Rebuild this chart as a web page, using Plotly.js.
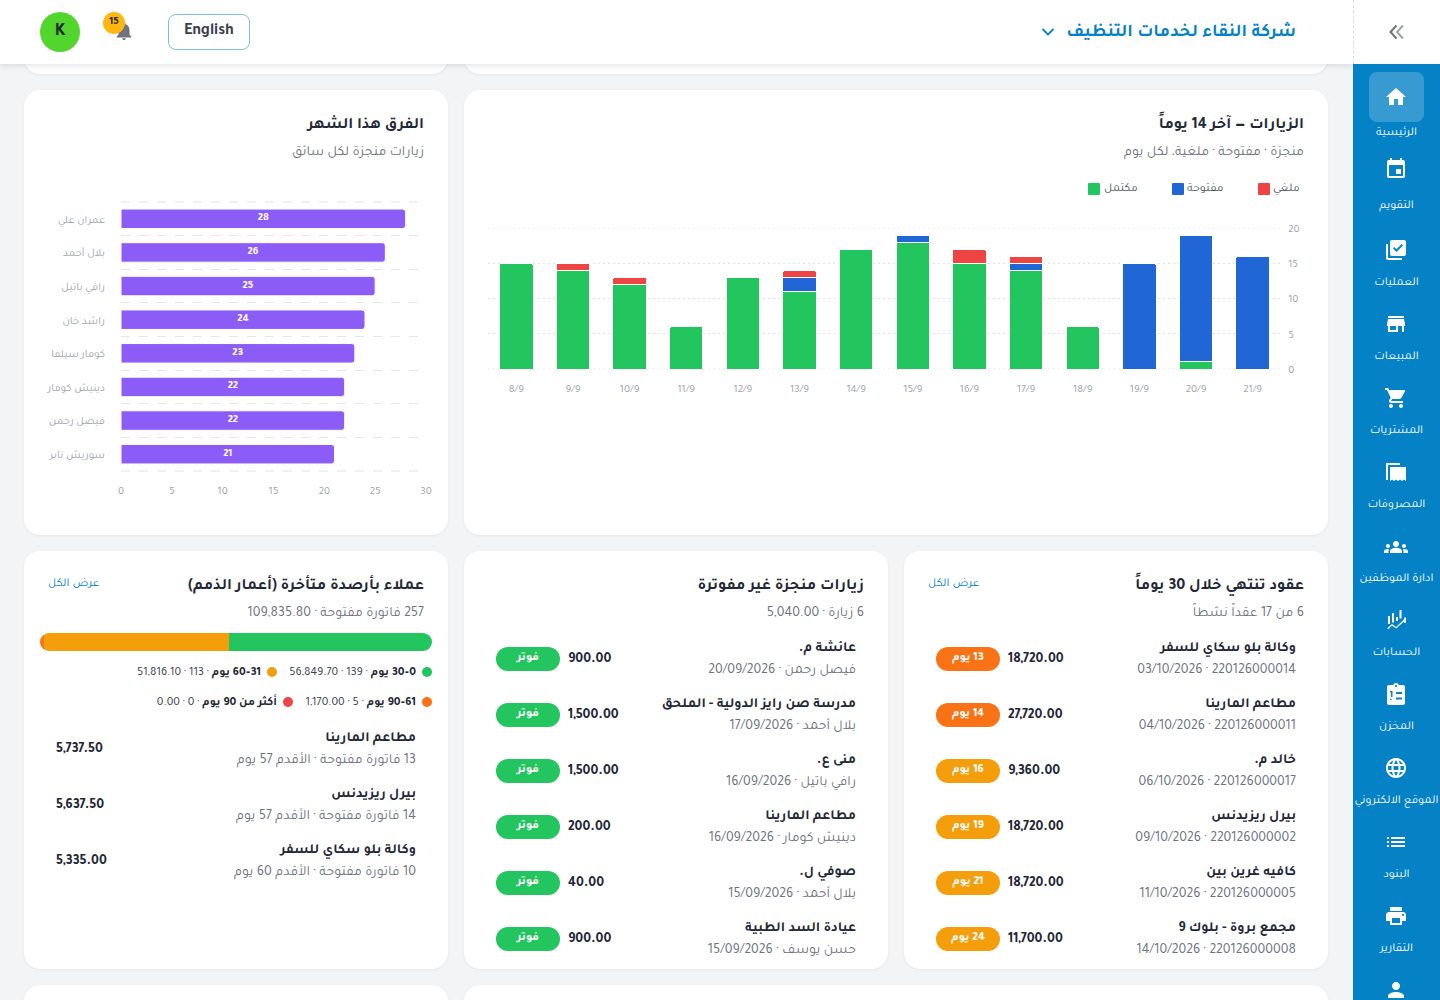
<!DOCTYPE html>
<html lang="ar"><head><meta charset="utf-8">
<script src="https://cdn.plot.ly/plotly-3.0.1.min.js"></script>
<style>
*{box-sizing:border-box}
html,body{margin:0;padding:0;width:1440px;height:1000px;overflow:hidden;background:#f3f4f6;font-family:Tajawal,"Noto Sans",sans-serif;color:#1f2937}
.abs{position:absolute}
.card{position:absolute;background:#fff;border-radius:16px;box-shadow:0 1px 3px rgba(0,0,0,.06);overflow:hidden}
.t{position:absolute;white-space:nowrap;line-height:1;transform:translateY(calc(-50% + 2.5px))}
.r{direction:rtl;text-align:right}
.title{font-size:16px;font-weight:700;color:#1f2937}
.sub{font-size:14px;color:#6b7280}
.name{font-size:14px;font-weight:700;color:#1f2937}
.meta{font-size:14px;color:#6b7280}
.amt{font-size:14px;font-weight:700;color:#1f2937;direction:ltr}
.link{font-size:12px;color:#0582c6}
.pill{position:absolute;width:64px;height:24px;border-radius:12px;color:#fff;font-size:12px;font-weight:700;display:flex;align-items:center;justify-content:center;direction:rtl;padding-bottom:3px}
.navlabel{position:absolute;left:1353px;width:87px;text-align:center;color:#fff;font-size:12px;line-height:1;transform:translateY(calc(-50% + 2px));white-space:nowrap;direction:rtl}
.navicon{position:absolute;left:1384px;width:24px;height:24px;fill:#fff}
.dot{position:absolute;width:10px;height:10px;border-radius:50%;transform:translateY(-50%)}
.leg{font-size:12px;color:#374151}.leg b{font-weight:700;color:#1f2937}
.sw{position:absolute;width:12px;height:12px;border-radius:1px}
.lt{font-size:12px;color:#4b5563}
</style></head><body>
<div id="page"></div>
<script>
// Visits chart
const visitDays=['8/9','9/9','10/9','11/9','12/9','13/9','14/9','15/9','16/9','17/9','18/9','19/9','20/9','21/9'];
const visitsDone=[15,14,12,6,13,11,17,18,15,14,6,0,1,0];
const visitsOpen=[0,0,0,0,0,2,0,1,0,1,0,15,18,16];
const visitsCancelled=[0,1,1,0,0,1,0,0,2,1,0,0,0,0];
const seriesNames=['مكتمل','مفتوحة','ملغي'];
const seriesColors=['#22c55e','#2066d4','#ef4444'];
// Drivers chart
const driverNames=['عمران علي','بلال أحمد','رافي باتيل','راشد خان','كومار سيلفا','دينيش كومار','فيصل رحمن','سوريش نابر'];
const driverVisits=[28,26,25,24,23,22,22,21];
// Ageing
const ageBuckets=['0–30 يوم','31–60 يوم','61–90 يوم','أكثر من 90 يوم'];
const ageCounts=[139,113,5,0];
const ageAmounts=[56849.70,51816.10,1170.00,0.00];
const ageColors=['#22c55e','#f59e0b','#f97316','#ef4444'];
// Lists
const debtorNames=['مطاعم المارينا','بيرل ريزيدنس','وكالة بلو سكاي للسفر'];
const debtorInvoices=[13,14,10];
const debtorOldest=[57,57,60];
const debtorAmounts=['5,737.50','5,637.50','5,335.00'];
const unbilledClients=['عائشة م.','مدرسة صن رايز الدولية - الملحق','منى ع.','مطاعم المارينا','صوفي ل.','عيادة السد الطبية'];
const unbilledDrivers=['فيصل رحمن','بلال أحمد','رافي باتيل','دينيش كومار','بلال أحمد','حسن يوسف'];
const unbilledDates=['20/09/2026','17/09/2026','16/09/2026','16/09/2026','15/09/2026','15/09/2026'];
const unbilledAmounts=['900.00','1,500.00','1,500.00','200.00','40.00','900.00'];
const contractClients=['وكالة بلو سكاي للسفر','مطاعم المارينا','خالد م.','بيرل ريزيدنس','كافيه غرين بين','مجمع بروة - بلوك 9'];
const contractIds=['220126000014','220126000011','220126000017','220126000002','220126000005','220126000008'];
const contractDates=['03/10/2026','04/10/2026','06/10/2026','09/10/2026','11/10/2026','14/10/2026'];
const contractAmounts=['18,720.00','27,720.00','9,360.00','18,720.00','18,720.00','11,700.00'];
const contractDays=[13,14,16,19,21,24];
const navLabels=['الرئيسية','التقويم','العمليات','المبيعات','المشتريات','المصروفات','ادارة الموظفين','الحسابات','المخزن','الموقع الالكتروني','البنود','التقارير'];
const navIconY=[97,169,250,324,398,472,547,620,694,768,842,916,990];
const navLabelY=[131,204,281,355,429,503,577,651,725,799,873,947];
const navIcons=[
'M10 20v-6h4v6h5v-8h3L12 3 2 12h3v8z',
'M17 12h-5v5h5v-5zM16 1v2H8V1H6v2H5c-1.11 0-1.99.9-1.99 2L3 19c0 1.1.89 2 2 2h14c1.1 0 2-.9 2-2V5c0-1.1-.9-2-2-2h-1V1h-2zm3 18H5V8h14v11z',
'M4 6H2v14c0 1.1.9 2 2 2h14v-2H4V6zm16-4H8c-1.1 0-2 .9-2 2v12c0 1.1.9 2 2 2h12c1.1 0 2-.9 2-2V4c0-1.1-.9-2-2-2zm-7.53 12L9 10.5l1.4-1.41 2.07 2.08L17.6 6 19 7.41 12.47 14z',
'M20 4H4v2h16V4zm1 10v-2l-1-5H4l-1 5v2h1v6h10v-6h4v6h2v-6h1zm-9 4H6v-4h6v4z',
'M7 18c-1.1 0-1.99.9-1.99 2S5.9 22 7 22s2-.9 2-2-.9-2-2-2zM1 2v2h2l3.6 7.59-1.35 2.45c-.16.28-.25.61-.25.96 0 1.1.9 2 2 2h12v-2H7.42c-.14 0-.25-.11-.25-.25l.03-.12.9-1.63h7.45c.75 0 1.41-.41 1.75-1.03l3.58-6.49c.08-.14.12-.31.12-.48 0-.55-.45-1-1-1H5.21l-.94-2H1zm16 16c-1.1 0-1.99.9-1.99 2s.89 2 1.99 2 2-.9 2-2-.9-2-2-2z',
'M2 3h14v2H4v15H2V3zM6 7h16v14l-2-1.5-2 1.5-2-1.5-2 1.5-2-1.5-2 1.5-2-1.5L6 21V7z',
'M12 12.75c1.63 0 3.07.39 4.24.9 1.08.48 1.76 1.56 1.76 2.73V18H6v-1.61c0-1.18.68-2.26 1.76-2.73 1.17-.52 2.61-.91 4.24-.91zM4 13c1.1 0 2-.9 2-2s-.9-2-2-2-2 .9-2 2 .9 2 2 2zm1.13 1.1C4.76 14.04 4.39 14 4 14c-.99 0-1.93.21-2.78.58C.48 14.9 0 15.62 0 16.43V18h4.5v-1.61c0-.83.23-1.61.63-2.29zM20 13c1.1 0 2-.9 2-2s-.9-2-2-2-2 .9-2 2 .9 2 2 2zm4 3.43c0-.81-.48-1.53-1.22-1.85C21.93 14.21 20.99 14 20 14c-.39 0-.76.04-1.13.1.4.68.63 1.46.63 2.29V18H24v-1.57zM12 6c1.66 0 3 1.34 3 3s-1.34 3-3 3-3-1.34-3-3 1.34-3 3-3z',
'M4 8h2v8H4zM8 5h2v9.5H8zM12 9h2v4h-2zM15.5 2h2v8.5h-2zM3 20.5l5-4.5 4 3 8-7.5v-2h2V15h-2v-1.5l-8 7-4-3-3.500 3.500z',
'M19 3h-4.180C14.400 1.840 13.300 1 12 1s-2.400.84-2.820 2H5c-1.100 0-2 .9-2 2v16c0 1.100.9 2 2 2h14c1.100 0 2-.9 2-2V5c0-1.100-.9-2-2-2zM12 3c.55 0 1 .45 1 1s-.45 1-1 1-1-.45-1-1 .45-1 1-1zM6 9v1.500h1V15h1.500V9zM12 10h6v2h-6zM6 16.500v1.500h1.500V17H6zM12 15.500h6v2h-6z',
'M11.990 2C6.470 2 2 6.480 2 12s4.470 10 9.990 10C17.520 22 22 17.520 22 12S17.520 2 11.990 2zm6.930 6h-2.950c-.32-1.250-.78-2.450-1.380-3.560 1.840.63 3.370 1.910 4.330 3.560zM12 4.040c.83 1.200 1.480 2.530 1.910 3.960h-3.820c.43-1.430 1.080-2.760 1.910-3.960zM4.260 14C4.100 13.360 4 12.690 4 12s.1-1.360.26-2h3.380c-.08.66-.14 1.320-.14 2 0 .68.06 1.340.14 2H4.260zm.82 2h2.950c.32 1.250.78 2.450 1.380 3.560-1.840-.63-3.370-1.900-4.330-3.560zm2.950-8H5.080c.96-1.660 2.490-2.930 4.330-3.560C8.810 5.550 8.350 6.750 8.030 8zM12 19.960c-.83-1.200-1.480-2.530-1.910-3.960h3.820c-.43 1.430-1.080 2.760-1.910 3.960zM14.340 14H9.660c-.09-.66-.16-1.320-.16-2 0-.68.07-1.350.16-2h4.680c.09.650.16 1.320.16 2 0 .68-.07 1.340-.16 2zm.25 5.560c.6-1.110 1.060-2.310 1.380-3.560h2.950c-.96 1.650-2.490 2.930-4.330 3.560zM16.360 14c.08-.66.14-1.320.14-2 0-.68-.06-1.340-.14-2h3.380c.16.640.26 1.310.26 2s-.1 1.360-.26 2h-3.380z',
'M3 13h2v-2H3v2zm0 4h2v-2H3v2zm0-8h2V7H3v2zm4 4h14v-2H7v2zm0 4h14v-2H7v2zM7 7v2h14V7H7z',
'M19 8H5c-1.660 0-3 1.340-3 3v6h4v4h12v-4h4v-6c0-1.660-1.340-3-3-3zm-3 11H8v-5h8v5zm3-7c-.55 0-1-.45-1-1s.45-1 1-1 1 .45 1 1-.45 1-1 1zm-1-9H6v4h12V3z',
'M12 12c2.210 0 4-1.790 4-4s-1.790-4-4-4-4 1.790-4 4 1.790 4 4 4zm0 2c-2.670 0-8 1.340-8 4v2h16v-2c0-2.660-5.330-4-8-4z'];
const bellIcon='M12 22c1.100 0 2-.9 2-2h-4c0 1.100.89 2 2 2zm6-6v-5c0-3.070-1.640-5.640-4.500-6.320V4c0-.83-.67-1.500-1.500-1.500s-1.500.67-1.500 1.500v.68C7.630 5.360 6 7.920 6 11v5l-2 2v1h16v-1l-2-2z';

const fmt=v=>v.toLocaleString('en-US',{minimumFractionDigits:2,maximumFractionDigits:2});
let h='';
const card=(x,y,w,ht,inner='')=>`<div class="card" style="left:${x}px;top:${y}px;width:${w}px;height:${ht}px">${inner}</div>`;
const rt=(right,y,cls,txt,extra='')=>`<div class="t r ${cls}" style="right:${1440-right}px;top:${y}px;${extra}">${txt}</div>`;
const lt=(left,y,cls,txt,extra='')=>`<div class="t ${cls}" style="left:${left}px;top:${y}px;${extra}">${txt}</div>`;
h+=card(24,40,424,34)+card(464,40,864,34);
h+=card(24,90,424,445)+card(464,90,864,445);
h+=card(24,551,424,418)+card(464,551,424,418)+card(904,551,424,418);
h+=card(24,985,424,60)+card(464,985,864,60);
h+=rt(1304,123,'title','الزيارات — آخر 14 يوماً')+rt(1304,150,'sub','منجزة · مفتوحة · ملغية، لكل يوم');
h+=rt(424,123,'title','الفرق هذا الشهر')+rt(424,150,'sub','زيارات منجزة لكل سائق');
h+=rt(1304,584,'title','عقود تنتهي خلال 30 يوماً')+rt(1304,611,'sub','6 من 17 عقداً نشطاً')+lt(928,581,'link r','عرض الكل');
h+=rt(864,584,'title','زيارات منجزة غير مفوترة')+rt(864,611,'sub','6 زيارة · 5,040.00');
h+=rt(424,584,'title','عملاء بأرصدة متأخرة (أعمار الذمم)')+rt(424,611,'sub','257 فاتورة مفتوحة · 109,835.80')+lt(48,581,'link r','عرض الكل');
// visits legend, from the series names and colours
const swX=[1088,1172,1258],swTextX=[1104,1187,1273];
seriesNames.forEach((n,i)=>{
 h+=`<div class="sw" style="left:${swX[i]}px;top:183px;background:${seriesColors[i]}"></div>`;
 h+=lt(swTextX[i],186,'lt r',n);
});
const legX=[427,272,427,288],legY=[671,671,701,701];
ageBuckets.forEach((b,i)=>{
 h+=`<div class="dot" style="left:${legX[i]-5}px;top:${legY[i]+1}px;background:${ageColors[i]}"></div>`;
 h+=rt(legX[i]-11,legY[i]-1,'leg',`<b>${b}</b> · ${ageCounts[i]} · ${fmt(ageAmounts[i])}`);
});
debtorNames.forEach((n,i)=>{const y=56*i;
 h+=rt(416,736+y,'name',n)+rt(416,758+y,'meta',`${debtorInvoices[i]} فاتورة مفتوحة · الأقدم ${debtorOldest[i]} يوم`);
 h+=lt(56,747+y,'amt',debtorAmounts[i]);
});
let mid='',right='';
unbilledClients.forEach((n,i)=>{const y=56*i;
 mid+=rt(856,646+y,'name',n)+rt(856,668+y,'meta',`${unbilledDrivers[i]} · ${unbilledDates[i]}`);
 mid+=lt(568,657+y,'amt',unbilledAmounts[i]);
 mid+=`<div class="pill" style="left:496px;top:${647+y}px;background:#22c55e">فوتر</div>`;
});
contractClients.forEach((n,i)=>{const y=56*i;
 right+=rt(1296,646+y,'name',n)+rt(1296,668+y,'meta',`${contractIds[i]} · ${contractDates[i]}`);
 right+=lt(1008,657+y,'amt',contractAmounts[i]);
 right+=`<div class="pill" style="left:936px;top:${647+y}px;background:${contractDays[i]<=14?'#f97316':'#f59e0b'}">${contractDays[i]} يوم</div>`;
});
h+=`<div class="abs" style="left:0;top:0;width:1440px;height:969px;overflow:hidden">${mid}${right}</div>`;
h+=`<div id="visits" class="abs" style="left:464px;top:170px;width:864px;height:240px"></div>`;
h+=`<div id="drivers" class="abs" style="left:24px;top:180px;width:424px;height:330px"></div>`;
h+=`<div id="ageing" class="abs" style="left:40px;top:633px;width:392px;height:18px;border-radius:9px;overflow:hidden"></div>`;
h+=`<div class="abs" style="left:0;top:0;width:1353px;height:64px;background:#fff;box-shadow:0 2px 6px rgba(0,0,0,.10)"></div>`;
h+=`<div class="abs" style="left:1353px;top:0;width:87px;height:64px;background:#fff;border-left:1px dashed #d9dce1"></div>`;
h+=`<svg class="abs" style="left:1387px;top:22px" width="20" height="20" viewBox="0 0 20 20" fill="none"><path d="M9.500 3.500 3.500 10l6 6.500" stroke="#6b7280" stroke-width="2"/><path d="M16 3.500 10 10l6 6.500" stroke="#9ca3af" stroke-width="2"/></svg>`;
h+=rt(1296,29.5,'','شركة النقاء لخدمات التنظيف','font-size:18px;font-weight:700;color:#0582c6');
h+=`<svg class="abs" style="left:1041px;top:27px" width="14" height="10" viewBox="0 0 14 10" fill="none"><path d="M1.500 2 7 7.500 12.500 2" stroke="#0582c6" stroke-width="1.800"/></svg>`;
h+=`<div class="abs" style="left:168px;top:14px;width:82px;height:36px;border:1px solid #7dbbe3;border-radius:8px;display:flex;align-items:center;justify-content:center;font-size:16px;font-weight:700;color:#374151;padding-bottom:0">English</div>`;
h+=`<svg class="abs" style="left:113px;top:20px" width="22" height="22" viewBox="0 0 24 24" fill="#6b7280"><path d="${bellIcon}"/></svg>`;
h+=`<div class="abs" style="left:103px;top:12px;width:22px;height:22px;border-radius:50%;background:#ffb70f;color:#1f2937;font-size:11px;font-weight:700;display:flex;align-items:center;justify-content:center;padding-bottom:2px">15</div>`;
h+=`<div class="abs" style="left:40px;top:12px;width:40px;height:40px;border-radius:50%;background:#52d62e;color:#1f2937;font-size:18px;font-weight:700;display:flex;align-items:center;justify-content:center;padding-bottom:0">K</div>`;
h+=`<div class="abs" style="left:1353px;top:64px;width:87px;height:936px;background:#0582c6"></div>`;
h+=`<div class="abs" style="left:1369px;top:72px;width:55px;height:50px;border-radius:8px;background:rgba(255,255,255,.2)"></div>`;
navIcons.forEach((p,i)=>{h+=`<svg class="navicon" style="top:${navIconY[i]-12}px" viewBox="0 0 24 24"><path d="${p}" fill-rule="evenodd"/></svg>`;});
navLabels.forEach((t,i)=>{h+=`<div class="navlabel" style="top:${navLabelY[i]}px">${t}</div>`;});
document.getElementById('page').innerHTML=h;

const F='Tajawal,"Noto Sans",sans-serif';
const cfg={displayModeBar:false,staticPlot:true};
const seg=(i,y)=>({type:'bar',name:seriesNames[i],x:visitDays,y,marker:{color:seriesColors[i],cornerradius:2,line:{color:'#ffffff',width:1}},hoverinfo:'skip'});
const edge=(yref,y,dash)=>({type:'line',xref:'paper',x0:0,x1:1,yref,y0:y,y1:y,line:{color:'#dfe2e7',width:1,dash},layer:'below'});
Plotly.newPlot('visits',[seg(0,visitsDone),seg(1,visitsOpen),seg(2,visitsCancelled)],{
 width:864,height:240,margin:{l:24,r:47,t:58,b:41,autoexpand:false},barmode:'stack',bargap:0.41,
 paper_bgcolor:'rgba(0,0,0,0)',plot_bgcolor:'rgba(0,0,0,0)',font:{family:F,size:11,color:'#9ca3af'},
 showlegend:false,shapes:[edge('y',0,'2px,3px'),edge('y',20,'2px,3px')],
 xaxis:{type:'category',tickfont:{size:11,color:'#9ca3af'},showgrid:false,zeroline:false,showline:false,ticks:'outside',ticklen:9,tickcolor:'rgba(0,0,0,0)'},
 yaxis:{side:'right',range:[0,20],dtick:5,tickfont:{size:11,color:'#9ca3af'},gridcolor:'#dfe2e7',griddash:'2px,3px',gridwidth:1,zeroline:false,showline:false,ticks:'outside',ticklen:4,tickcolor:'rgba(0,0,0,0)'}
},cfg);
Plotly.newPlot('drivers',[{type:'bar',orientation:'h',x:driverVisits,y:driverNames,text:driverVisits.map(String),textposition:'inside',insidetextanchor:'middle',textangle:0,textfont:{size:11,color:'#ffffff',family:F,weight:700},marker:{color:'#8b5cf6',cornerradius:3,line:{color:'#ffffff',width:1}},hoverinfo:'skip'}],{
 width:424,height:330,margin:{l:97,r:22,t:22,b:39,autoexpand:false},bargap:0.42,showlegend:false,
 paper_bgcolor:'rgba(0,0,0,0)',plot_bgcolor:'rgba(0,0,0,0)',font:{family:F,size:11,color:'#9ca3af'},
 shapes:[edge('paper',0,'dash'),edge('paper',1,'dash')],
 xaxis:{range:[0,30],dtick:5,showgrid:false,zeroline:false,showline:false,tickfont:{size:11,color:'#9ca3af'},ticks:'outside',ticklen:9,tickcolor:'rgba(0,0,0,0)'},
 yaxis:{type:'category',autorange:'reversed',tickson:'boundaries',gridcolor:'#e5e7eb',griddash:'dash',showgrid:true,zeroline:false,showline:false,tickfont:{size:11,color:'#9ca3af'},ticks:'',ticklabelstandoff:15}
},cfg);
Plotly.newPlot('ageing',ageBuckets.map((b,i)=>({type:'bar',orientation:'h',name:b,x:[ageAmounts[i]],y:['ageing'],marker:{color:ageColors[i]},hoverinfo:'skip'})),{
 width:392,height:18,margin:{l:0,r:0,t:0,b:0},barmode:'stack',bargap:0,showlegend:false,
 paper_bgcolor:'rgba(0,0,0,0)',plot_bgcolor:'rgba(0,0,0,0)',
 xaxis:{range:[ageAmounts.reduce((a,b)=>a+b,0),0],visible:false},
 yaxis:{visible:false}
},cfg);
</script></body></html>
